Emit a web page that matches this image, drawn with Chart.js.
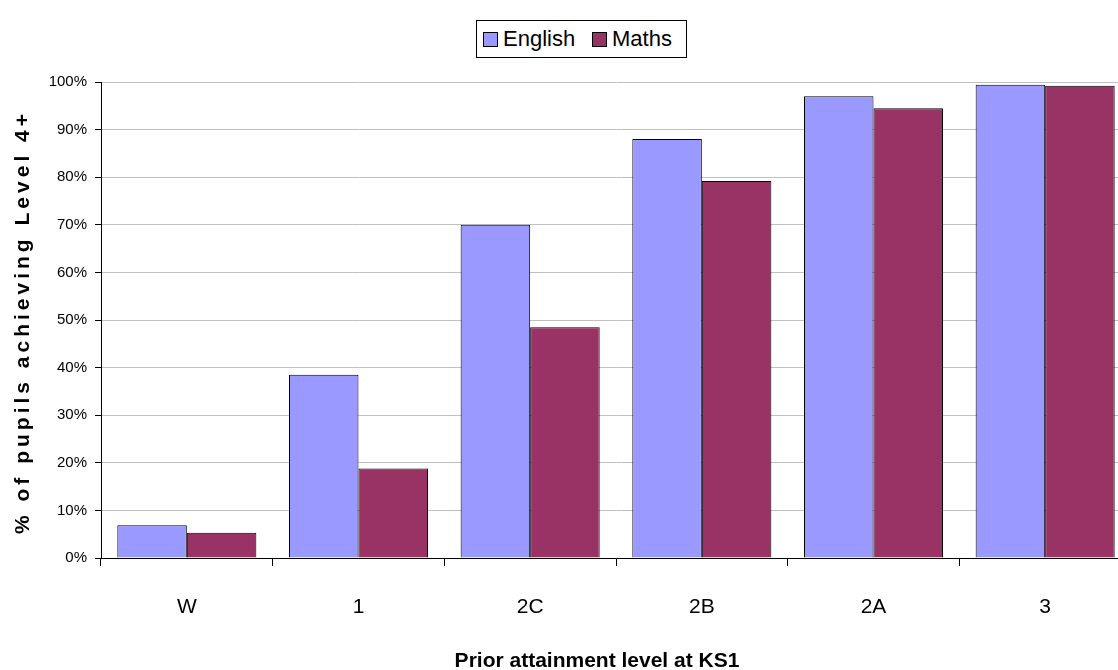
<!DOCTYPE html>
<html>
<head>
<meta charset="utf-8">
<script src="https://cdn.jsdelivr.net/npm/chart.js@4.4.1/dist/chart.umd.min.js"></script>
<style>
  html, body { margin: 0; padding: 0; background: #fff; overflow: hidden; width: 1118px; height: 670px; }
  #wrap { position: absolute; left: 0; top: 0; width: 1140px; height: 670px; }
  #legend { position: absolute; left: 476px; top: 20px; width: 209px; height: 36px; border: 1px solid #000;
            font-family: "Liberation Sans", Arial, sans-serif; font-size: 22px; color: #000; background: #fff; }
  .item { position: absolute; top: 5px; line-height: 26px; white-space: nowrap; }
  .sw { display: inline-block; width: 13px; height: 13px; border: 1px solid #000; vertical-align: -1px; margin-right: 5px; }
</style>
</head>
<body>
<div id="wrap"><canvas id="myChart" width="1140" height="670"></canvas></div>
<div id="legend"></div>
<script>
// KS1 prior attainment vs % reaching Level 4+ at KS2
const categories = ['W', '1', '2C', '2B', '2A', '3'];
const english = [6.9, 38.5, 70.0, 88.0, 97.0, 99.4];
const maths   = [5.3, 18.8, 48.5, 79.2, 94.5, 99.2];
const seriesNames = ['English', 'Maths'];
const seriesColors = ['#9999FF', '#993366'];

const FONT = '"Liberation Sans", Arial, sans-serif';

// axis titles drawn by hand (the y one is letter-spaced)
const titlesPlugin = {
    id: 'titles',
    afterDraw(chart) {
        const { ctx } = chart;
        ctx.save();
        ctx.fillStyle = '#000';
        ctx.textAlign = 'center';
        ctx.textBaseline = 'middle';
        ctx.font = 'bold 21px ' + FONT;
        ctx.fillText('Prior attainment level at KS1', 597, 661);
        ctx.translate(23, 322);
        ctx.rotate(-Math.PI / 2);
        ctx.letterSpacing = '4px';
        ctx.fillText('% of pupils achieving Level 4+', 0, 0);
        ctx.restore();
    }
};

document.getElementById('legend').innerHTML = seriesNames.map((n, i) =>
    `<span class="item" style="left:${i === 0 ? 6 : 115}px"><span class="sw" style="background:${seriesColors[i]}"></span>${n}</span>`
).join('');

new Chart(document.getElementById('myChart'), {
    type: 'bar',
    data: {
        labels: categories,
        datasets: [
            { label: seriesNames[0], data: english, backgroundColor: seriesColors[0], borderColor: '#000', borderWidth: 1 },
            { label: seriesNames[1], data: maths,   backgroundColor: seriesColors[1], borderColor: '#000', borderWidth: 1 },
        ]
    },
    options: {
        responsive: false,
        animation: false,
        layout: { padding: { left: 0, right: 9, top: 82, bottom: 0 } },
        datasets: { bar: { categoryPercentage: 0.81, barPercentage: 1.0 } },
        scales: {
            x: {
                grid: { drawOnChartArea: false, drawTicks: true, tickLength: 8, color: '#000', offset: true },
                border: { color: '#000', width: 1 },
                ticks: { color: '#000', font: { family: FONT, size: 21 }, padding: 29 },
                afterFit(scale) { scale.height = 112; }
            },
            y: {
                min: 0, max: 100,
                grid: { color: '#c0c0c0', tickColor: '#000', tickLength: 6 },
                border: { color: '#000', width: 1 },
                ticks: { stepSize: 10, color: '#000', font: { family: FONT, size: 15 }, padding: 8,
                         callback: v => v + '%' },
                afterFit(scale) { scale.width = 101; }
            }
        },
        plugins: { legend: { display: false }, tooltip: { enabled: false } }
    },
    plugins: [titlesPlugin]
});
</script>
</body>
</html>
